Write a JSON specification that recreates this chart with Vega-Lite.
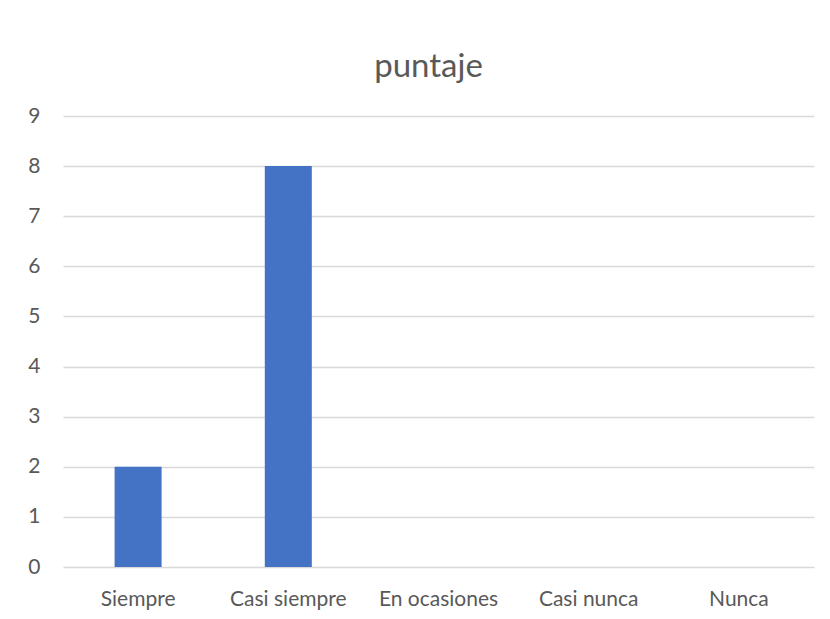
{
  "$schema": "https://vega.github.io/schema/vega-lite/v6.json",
  "autosize": "none",
  "width": 751,
  "height": 451,
  "padding": {"left": 63, "top": 116, "right": 16, "bottom": 52},
  "background": "white",
  "title": {
    "text": "puntaje",
    "font": "Lato",
    "fontSize": 33,
    "fontWeight": "normal",
    "color": "#595959",
    "anchor": "middle",
    "offset": 21,
    "dx": -10
  },
  "data": {
    "values": [
      {"categoria": "Siempre", "puntaje": 2},
      {"categoria": "Casi siempre", "puntaje": 8},
      {"categoria": "En ocasiones", "puntaje": 0},
      {"categoria": "Casi nunca", "puntaje": 0},
      {"categoria": "Nunca", "puntaje": 0}
    ]
  },
  "mark": {"type": "bar", "color": "#4472C4"},
  "encoding": {
    "x": {
      "field": "categoria",
      "type": "nominal",
      "sort": null,
      "scale": {"paddingInner": 0.687, "paddingOuter": 0.3435},
      "axis": {
        "title": null,
        "labelAngle": 0,
        "labelFont": "Lato",
        "labelFontSize": 21,
        "labelColor": "#595959",
        "labelPadding": 21,
        "labelOverlap": false,
        "ticks": false,
        "domain": false
      }
    },
    "y": {
      "field": "puntaje",
      "type": "quantitative",
      "scale": {"domain": [0, 9], "nice": false},
      "axis": {
        "title": null,
        "values": [0, 1, 2, 3, 4, 5, 6, 7, 8, 9],
        "labelFont": "Lato",
        "labelFontSize": 21,
        "labelColor": "#595959",
        "labelPadding": 23,
        "labelOverlap": false,
        "labelFlush": false,
        "ticks": false,
        "domain": false,
        "grid": true,
        "gridColor": "#d9d9d9",
        "gridWidth": 1.5
      }
    }
  },
  "config": {
    "view": {"stroke": null}
  }
}
